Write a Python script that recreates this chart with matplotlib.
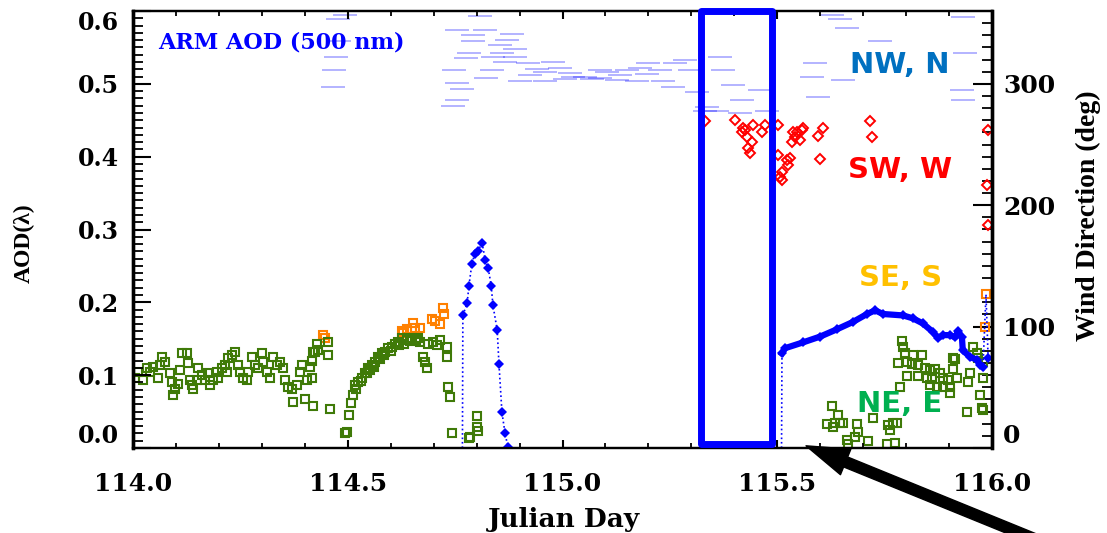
import matplotlib
matplotlib.use('Agg')
import matplotlib.pyplot as plt
from matplotlib.patches import Rectangle
from matplotlib.ticker import MultipleLocator

plt.rcParams['font.family'] = 'DejaVu Serif'
plt.rcParams['font.weight'] = 'bold'

# ---- wind direction (right axis), split by sector ----
# NW, N : light blue dashes
nw_day = [114.494, 114.477, 114.480, 114.473, 114.468, 114.466,
          114.808, 114.754, 114.792, 114.882, 114.792, 114.871, 114.889, 114.782, 114.859,
          114.775, 114.838, 114.866, 114.920, 114.978,
          114.747, 114.836, 114.941, 115.017, 114.822, 114.959, 115.024, 115.069, 115.104,
          115.150, 115.199, 115.197, 115.127, 115.173, 115.234, 115.257, 115.285, 115.297, 115.313,
          114.754, 114.766, 114.754, 114.745, 115.332,
          115.627, 115.646, 115.932, 115.662, 115.739, 115.937, 115.588, 115.581, 115.653,
          115.930, 115.932, 115.595, 115.460, 115.476,
          115.367, 115.374, 115.397, 115.336, 115.360, 115.418, 115.413,
          114.994, 115.052, 115.087, 115.134, 115.180, 114.924, 114.889, 114.854, 114.820,
          115.087, 115.227, 115.262, 115.006, 114.901, 114.959]
nw_dir = [357, 353, 335, 322, 311, 297,
          356, 344, 340, 341, 335, 336, 329, 325, 325,
          321, 322, 318, 317, 318,
          311, 311, 312, 309, 305, 302, 306, 304, 310,
          311, 317, 308, 303, 302, 302, 297, 320, 311, 293,
          301, 296, 287, 282, 278,
          357, 353, 355, 346, 335, 325, 317, 306, 303,
          295, 287, 289, 295, 278,
          322, 311, 299, 281, 278, 287, 276,
          313, 306, 311, 307, 313, 307, 322, 332, 344,
          305, 311, 317, 304, 302, 310]

# SW, W : red diamonds
sw_day = [115.332, 115.402, 115.420, 115.418, 115.444, 115.430, 115.441, 115.432, 115.437,
          115.464, 115.471, 115.425,
          115.502, 115.502, 115.523, 115.530, 115.525, 115.511, 115.506, 115.511, 115.534,
          115.541, 115.546, 115.558, 115.560, 115.553, 115.537,
          115.595, 115.607, 115.600, 115.716, 115.721, 115.991, 115.988, 115.991]
sw_dir = [269, 270, 264, 260, 266, 256, 252, 247, 243,
          260, 266, 262,
          266, 241, 237, 239, 233, 227, 223, 221, 252,
          256, 260, 262, 264, 254, 260,
          257, 264, 238, 269, 256, 262, 217, 184]

# SE, S : orange squares
se_day = [114.442, 114.447, 114.626, 114.629, 114.638, 114.652, 114.657, 114.650,
          114.668, 114.696, 114.703, 114.715, 114.722, 114.724, 115.986, 115.984]
se_dir = [93, 91, 96, 95, 98, 103, 99, 96, 99, 106, 105, 102, 115, 110, 127, 100]

# NE, E : green squares
ne_day = [114.005, 114.012, 114.023, 114.033, 114.040, 114.047, 114.058, 114.063, 114.068,
          114.075, 114.086, 114.091, 114.093, 114.098, 114.105, 114.109, 114.114, 114.126,
          114.128, 114.133, 114.137, 114.140, 114.149, 114.151, 114.161, 114.168, 114.175,
          114.179, 114.186, 114.196, 114.198, 114.207, 114.214, 114.219, 114.221, 114.230,
          114.237, 114.244, 114.249, 114.256, 114.265, 114.268, 114.277, 114.284, 114.291,
          114.300, 114.303, 114.312, 114.319, 114.326, 114.335, 114.342, 114.349, 114.354,
          114.361, 114.370, 114.373, 114.382, 114.389, 114.393, 114.400, 114.405, 114.412,
          114.417, 114.419, 114.419, 114.428,
          114.431, 114.424, 114.454, 114.454, 114.459, 114.417,
          114.498, 114.494, 114.503, 114.508, 114.512, 114.517, 114.524, 114.533, 114.540,
          114.547, 114.556, 114.563, 114.570, 114.580, 114.587, 114.594, 114.603, 114.610,
          114.617, 114.626, 114.638, 114.650, 114.664, 114.668, 114.675, 114.680, 114.685,
          114.687, 114.698, 114.708, 114.715, 114.731, 114.731, 114.733, 114.738, 114.743,
          114.785, 114.801, 114.801, 114.782, 114.803,
          114.520, 114.530, 114.545, 114.552, 114.560, 114.575, 114.585, 114.600, 114.620,
          114.632, 114.645, 114.660,
          115.790, 115.793, 115.797, 115.781, 115.802, 115.814, 115.816, 115.837, 115.828,
          115.844, 115.856, 115.867, 115.828, 115.802, 115.849, 115.860, 115.879, 115.886,
          115.898, 115.909, 115.914, 115.919, 115.856, 115.872, 115.886, 115.902, 115.902,
          115.786, 115.949, 115.944, 115.956, 115.965, 115.967, 115.979, 115.972, 115.977,
          115.942, 115.627, 115.641, 115.634, 115.646, 115.653, 115.616, 115.630, 115.686,
          115.688, 115.681, 115.662, 115.665, 115.711, 115.723, 115.758, 115.770, 115.779,
          115.763, 115.756, 115.774, 115.979, 115.979, 115.909]
ne_dir = [58, 63, 56, 66, 63, 67, 58, 68, 75,
          71, 62, 54, 44, 49, 53, 64, 78, 78,
          70, 56, 52, 49, 56, 66, 60, 56, 62,
          52, 56, 63, 58, 66, 68, 63, 74, 77,
          79, 68, 63, 58, 56, 63, 75, 68, 66,
          78, 71, 63, 58, 75, 68, 71, 66, 56,
          50, 49, 38, 52, 63, 68, 40, 56, 67,
          72, 79, 35, 86,
          81, 79, 87, 77, 32, 58,
          13, 12, 27, 37, 44, 52, 54, 58, 62,
          66, 68, 71, 75, 78, 79, 82, 83, 86,
          87, 91, 89, 91, 91, 87, 75, 71, 66,
          86, 87, 85, 89, 83, 75, 50, 42, 12,
          9, 17, 26, 8, 14,
          49, 55, 62, 64, 67, 73, 77, 80, 85,
          86, 88, 89,
          88, 83, 78, 70, 71, 69, 77, 77, 68,
          66, 64, 65, 59, 59, 58, 57, 62, 58,
          56, 65, 73, 58, 52, 50, 50, 50, 45,
          50, 62, 54, 83, 78, 74, 58, 44, 33,
          30, 35, 27, 21, 21, 21, 20, 17, 20,
          13, 9, 7, 3, 6, 25, 19, 21, 21,
          15, 3, 4, 31, 71, 74]

# ---- ARM AOD 500 nm (left axis) ----
aod1_day = [114.767, 114.768, 114.778, 114.782, 114.789, 114.796, 114.803, 114.813, 114.820,
            114.827, 114.834, 114.838, 114.848, 114.852, 114.859, 114.866, 114.873]
aod1_val = [0.0, 0.182, 0.199, 0.222, 0.253, 0.267, 0.271, 0.281, 0.258,
            0.247, 0.223, 0.196, 0.162, 0.116, 0.049, 0.021, 0.001]
aod2_day = [115.510, 115.511, 115.518, 115.560, 115.600, 115.639, 115.676, 115.709, 115.728,
            115.746, 115.793, 115.816, 115.839, 115.863, 115.874, 115.886, 115.902, 115.914,
            115.921, 115.930, 115.932, 115.949, 115.965, 115.972, 115.979, 115.986, 115.991]
aod2_val = [0.0, 0.130, 0.137, 0.145, 0.153, 0.163, 0.173, 0.184, 0.189,
            0.184, 0.182, 0.178, 0.171, 0.159, 0.151, 0.155, 0.155, 0.152,
            0.160, 0.152, 0.134, 0.125, 0.121, 0.114, 0.111, 0.211, 0.123]

# highlighted period and arrow target
box_day = [115.3225, 115.4878]
box_aod = [0.005, 0.5995]
arrow_day, arrow_aod = 115.567, 0.003

aod_ticks = [0.0, 0.1, 0.2, 0.3, 0.4, 0.5, 0.6]
dir_ticks = [0, 100, 200, 300]
day_ticks = [114.0, 114.5, 115.0, 115.5, 116.0]

sectors = [('NW, N', '#0070c0', 0.876), ('SW, W', '#ff0000', 0.636),
           ('SE, S', '#ffc000', 0.389), ('NE, E', '#00b050', 0.100)]

fig = plt.figure(figsize=(11.07, 5.33), dpi=100)
ax = fig.add_axes([133/1107, 85/533, 859/1107, 437/533])
ax2 = ax.twinx()
ax.set_zorder(ax2.get_zorder() + 1)
ax.patch.set_visible(False)

# wind direction
ax2.plot(nw_day, nw_dir, ls='none', marker='_', ms=17, mew=1.3, color='#0000ff', alpha=0.32)
ax2.plot(sw_day, sw_dir, ls='none', marker='D', ms=5, mfc='none', mec='#ff0000', mew=1.4)
ax2.plot(se_day, se_dir, ls='none', marker='s', ms=6.3, mfc='none', mec='#ff8000', mew=1.5)
ax2.plot(ne_day, ne_dir, ls='none', marker='s', ms=6.3, mfc='none', mec='#3f7a08', mew=1.5)

# AOD
ax.plot(aod1_day, aod1_val, ':', color='#0000ff', lw=1.2, marker='D', ms=5, mew=0,
        markevery=list(range(1, len(aod1_day))))
ax.plot(aod2_day, aod2_val, ':', color='#0000ff', lw=1.2)
ax.plot(aod2_day[1:25], aod2_val[1:25], '-', color='#0000ff', lw=4.5, marker='D', ms=5, mew=0)
ax.plot(aod2_day[-1:], aod2_val[-1:], 'D', color='#0000ff', ms=5, mew=0)

ax.add_patch(Rectangle((box_day[0], box_aod[0]), box_day[1]-box_day[0], box_aod[1]-box_aod[0],
                       fill=False, ec='#0000ff', lw=5, joinstyle='round', clip_on=False, zorder=5))

ax.annotate('', xy=(arrow_day, arrow_aod), xycoords='data',
            xytext=(0.945, -0.02), textcoords='figure fraction',
            arrowprops=dict(arrowstyle='simple,head_length=1.4,head_width=0.9,tail_width=0.35',
                            mutation_scale=22, color='black', shrinkA=0, shrinkB=0),
            annotation_clip=False)

# text
ax.text(0.029, 0.929, 'ARM AOD (500 nm)', transform=ax.transAxes, color='#0000ff',
        fontsize=16, fontweight='bold', ha='left', va='center')
for name, col, yy in sectors:
    ax.text(0.893, yy, name, transform=ax.transAxes, color=col, fontsize=21,
            family='DejaVu Sans', fontweight='bold', ha='center', va='center')

fig.text(564/1107, 1-520/533, 'Julian Day', fontsize=19, fontweight='bold', ha='center', va='center')
fig.text(24/1107, 1-243/533, 'AOD(λ)', family='Liberation Serif', fontsize=17,
         fontweight='bold', rotation=90, ha='center', va='center')
fig.text(1088/1107, 1-216/533, 'Wind Direction (deg)', family='Liberation Serif', fontsize=20,
         fontweight='bold', rotation=90, ha='center', va='center')

# axes
ax.set_xlim(114, 116)
ax.set_ylim(0, 0.6)
ax2.set_ylim(0, 360)
ax.set_xticks(day_ticks)
ax.set_yticks(aod_ticks)
ax2.set_yticks(dir_ticks)
ax.xaxis.set_minor_locator(MultipleLocator(0.1))
ax.yaxis.set_minor_locator(MultipleLocator(0.01))
ax2.yaxis.set_minor_locator(MultipleLocator(10))

ax.tick_params(axis='x', which='both', direction='in', top=True, bottom=True)
ax.tick_params(axis='x', which='major', length=6, width=1.5, labelsize=18, pad=17)
ax.tick_params(axis='x', which='minor', length=3.3, width=1.3)
ax.tick_params(axis='y', which='both', direction='in', left=True, right=False)
ax.tick_params(axis='y', which='major', length=13, width=1.5, labelsize=17, pad=10)
ax.tick_params(axis='y', which='minor', length=7, width=1.3)
ax2.tick_params(axis='y', which='both', direction='in', right=True, left=False)
ax2.tick_params(axis='y', which='major', length=13.5, width=1.5, labelsize=18, pad=8)
ax2.tick_params(axis='y', which='minor', length=7, width=1.3)

for a in (ax, ax2):
    for side in ('left', 'right'):
        a.spines[side].set_linewidth(2.4)
    for side in ('top', 'bottom'):
        a.spines[side].set_linewidth(1.6)

ylabs = ax.get_yticklabels()
ylabs[0].set_va('bottom')
ylabs[-1].set_va('top')
ax2.get_yticklabels()[0].set_va('bottom')

fig.savefig('out.png', dpi=100)
